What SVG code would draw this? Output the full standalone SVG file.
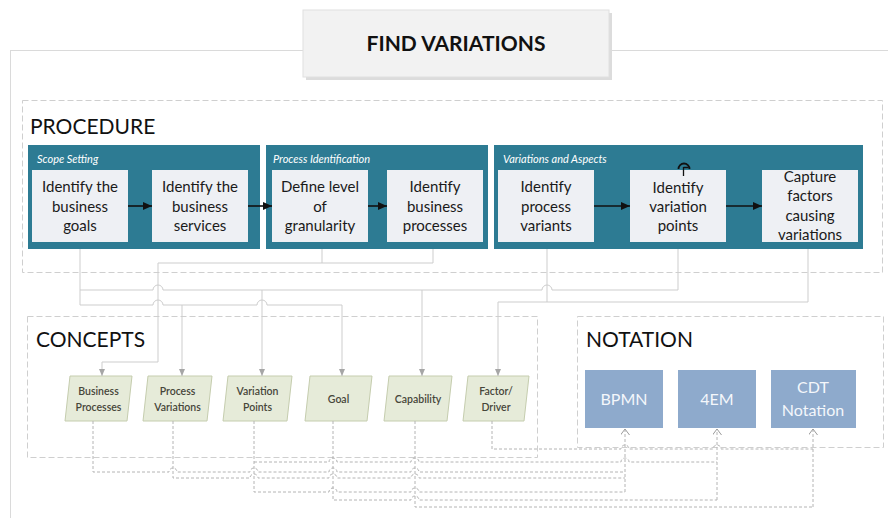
<svg xmlns="http://www.w3.org/2000/svg" width="888" height="518" viewBox="0 0 888 518">
<defs>
<style>
.t{font-family:Lato,"Liberation Sans",sans-serif}
.box{fill:#eef0f4}
.grp{fill:#2d7b93}
.bt{font-size:15px;fill:#1a1a1a;text-anchor:middle}
.gl{font-size:11px;fill:#ffffff;font-style:italic}
.sec{font-size:21px;fill:#111111}
.frame{fill:none;stroke:#cfcfcf;stroke-width:1;stroke-dasharray:6,3}
.con{fill:#e6ebd9;stroke:#c5cdae;stroke-width:1}
.ct{font-size:10.5px;fill:#46463a;font-weight:600;text-anchor:middle}
.nb{fill:#8eaacc}
.nt{font-size:16px;fill:#f4f7fb;text-anchor:middle}
.pa{stroke:#111;stroke-width:1.6;fill:none}
.up{stroke:#cdcdcd;stroke-width:1;fill:none}
.dn{stroke:#b4b4b4;stroke-width:1;fill:none;stroke-dasharray:3,2}
</style>
<marker id="ab" markerUnits="userSpaceOnUse" markerWidth="9" markerHeight="8" refX="9" refY="4" orient="auto"><path d="M0,0 L9,4 L0,8 z" fill="#111"/></marker>
<marker id="ag" markerUnits="userSpaceOnUse" markerWidth="7" markerHeight="6" refX="7" refY="3" orient="auto"><path d="M0,0 L7,3 L0,6 z" fill="#a6a6a6"/></marker>
<marker id="ao" markerUnits="userSpaceOnUse" markerWidth="7" markerHeight="9" refX="6" refY="4.5" orient="auto"><path d="M0,0 L6,4.5 L0,9" fill="none" stroke="#9a9a9a" stroke-width="1"/></marker>
</defs>
<rect width="888" height="518" fill="#ffffff"/>
<rect x="10.5" y="50.5" width="900" height="490" fill="none" stroke="#dadada"/>

<g id="title">
<rect x="306" y="13" width="306" height="67" fill="#dcdcdc"/>
<rect x="303" y="10" width="306" height="67" fill="#f2f2f2" stroke="#e0e0e0"/>
<text class="t" x="456" y="51" font-size="21" font-weight="bold" fill="#111" text-anchor="middle">FIND VARIATIONS</text>
</g>

<g id="procedure">
<rect class="frame" x="22.5" y="100.5" width="860" height="172"/>
<text class="t sec" x="30" y="134">PROCEDURE</text>
</g>

<g id="scope-setting">
<rect class="grp" x="28" y="145" width="232" height="104"/>
<text class="t gl" x="37" y="163">Scope Setting</text>
</g>
<g id="process-identification">
<rect class="grp" x="266" y="145" width="222" height="104"/>
<text class="t gl" x="273" y="163">Process Identification</text>
</g>
<g id="variations-and-aspects">
<rect class="grp" x="494" y="145" width="369" height="104"/>
<text class="t gl" x="503" y="163">Variations and Aspects</text>
</g>

<g id="s1"><rect class="box" x="32" y="170" width="96" height="72"/>
<text class="t bt" x="80" y="192">Identify the</text><text class="t bt" x="80" y="212">business</text><text class="t bt" x="80" y="231">goals</text></g>
<g id="s2"><rect class="box" x="152" y="170" width="96" height="72"/>
<text class="t bt" x="200" y="192">Identify the</text><text class="t bt" x="200" y="212">business</text><text class="t bt" x="200" y="231">services</text></g>
<g id="s3"><rect class="box" x="272" y="170" width="96" height="72"/>
<text class="t bt" x="320" y="192">Define level</text><text class="t bt" x="320" y="212">of</text><text class="t bt" x="320" y="231">granularity</text></g>
<g id="s4"><rect class="box" x="387" y="170" width="96" height="72"/>
<text class="t bt" x="435" y="192">Identify</text><text class="t bt" x="435" y="212">business</text><text class="t bt" x="435" y="231">processes</text></g>
<g id="s5"><rect class="box" x="498" y="170" width="96" height="72"/>
<text class="t bt" x="546" y="192">Identify</text><text class="t bt" x="546" y="212">process</text><text class="t bt" x="546" y="231">variants</text></g>
<g id="s6"><rect class="box" x="630" y="170" width="96" height="72"/>
<text class="t bt" x="678" y="193">Identify</text><text class="t bt" x="678" y="212">variation</text><text class="t bt" x="678" y="231">points</text></g>
<g id="s7"><rect class="box" x="762" y="170" width="96" height="72"/>
<text class="t bt" x="810" y="182">Capture</text><text class="t bt" x="810" y="201">factors</text><text class="t bt" x="810" y="221">causing</text><text class="t bt" x="810" y="240">variations</text></g>

<g id="cursor"><path d="M678.5,169 a5.5,5.5 0 1 1 11,0" fill="none" stroke="#111" stroke-width="1.8"/><path d="M683.5,167 V176 M683.5,167.5 h5" fill="none" stroke="#111" stroke-width="1.3"/></g>

<g id="concepts">
<rect class="frame" x="27.5" y="316.5" width="510" height="141"/>
<text class="t sec" x="36" y="347">CONCEPTS</text>
</g>
<g id="c-bp"><path class="con" d="M70,376 H132 L127,421 H65 Z"/><text class="t ct" x="98.5" y="395">Business</text><text class="t ct" x="98.5" y="411">Processes</text></g>
<g id="c-pv"><path class="con" d="M148,376 H212 L207,421 H143 Z"/><text class="t ct" x="177.5" y="395">Process</text><text class="t ct" x="177.5" y="411">Variations</text></g>
<g id="c-vp"><path class="con" d="M228,376 H292 L287,421 H223 Z"/><text class="t ct" x="257.5" y="395">Variation</text><text class="t ct" x="257.5" y="411">Points</text></g>
<g id="c-goal"><path class="con" d="M310,376 H372 L367,421 H305 Z"/><text class="t ct" x="338.5" y="403">Goal</text></g>
<g id="c-cap"><path class="con" d="M389,376 H452 L447,421 H384 Z"/><text class="t ct" x="418" y="403">Capability</text></g>
<g id="c-fd"><path class="con" d="M468,376 H529 L524,421 H463 Z"/><text class="t ct" x="496" y="395">Factor/</text><text class="t ct" x="496" y="411">Driver</text></g>

<g id="notation">
<rect class="frame" x="577.5" y="316.5" width="306" height="131"/>
<text class="t sec" x="586" y="347">NOTATION</text>
</g>
<g id="n-bpmn"><rect class="nb" x="585" y="370" width="78" height="58"/><text class="t nt" x="624" y="405">BPMN</text></g>
<g id="n-4em"><rect class="nb" x="678" y="370" width="78" height="58"/><text class="t nt" x="717" y="405">4EM</text></g>
<g id="n-cdt"><rect class="nb" x="771" y="370" width="85" height="58"/><text class="t nt" x="813" y="393">CDT</text><text class="t nt" x="813" y="416">Notation</text></g>

<g id="connectors">
<path class="pa" d="M128,206 H152" marker-end="url(#ab)"/>
<path class="pa" d="M248,206 H272" marker-end="url(#ab)"/>
<path class="pa" d="M368,206 H387" marker-end="url(#ab)"/>
<path class="pa" d="M594,206 H630" marker-end="url(#ab)"/>
<path class="pa" d="M726,206 H762" marker-end="url(#ab)"/>

<path class="up" d="M80,249 V305 H153 a5,5 0 0 1 10,0 H257 a5,5 0 0 1 10,0 H342 V376" marker-end="url(#ag)"/>
<path class="up" d="M182,305 V376" marker-end="url(#ag)"/>
<path class="up" d="M80,290 H153 a5,5 0 0 1 10,0 H542 a5,5 0 0 1 10,0 H678 V249"/>
<path class="up" d="M262,290 V376" marker-end="url(#ag)"/>
<path class="up" d="M422,290 V376" marker-end="url(#ag)"/>
<path class="up" d="M547,249 V302 H498 V376" marker-end="url(#ag)"/>
<path class="up" d="M808,249 V302 H547"/>
<path class="up" d="M322,249 V263 M433,249 V263"/>
<path class="up" d="M433,263 H158 V362 H102 V376" marker-end="url(#ag)"/>

<path class="dn" d="M93,421 V472 H169 a4,4 0 0 1 8,0 H250 a4,4 0 0 1 8,0 H329 a4,4 0 0 1 8,0 H411 a4,4 0 0 1 8,0 H625"/>
<path class="dn" d="M173,421 V478 H250 a4,4 0 0 1 8,0 H329 a4,4 0 0 1 8,0 H411 a4,4 0 0 1 8,0 H625"/>
<path class="dn" d="M254,421 V492 H329 a4,4 0 0 1 8,0 H411 a4,4 0 0 1 8,0 H625"/>
<path class="dn" d="M254,462 H329 a4,4 0 0 1 8,0 H411 a4,4 0 0 1 8,0 H621 a4,4 0 0 1 8,0 H717"/>
<path class="dn" d="M333,421 V500 H411 a4,4 0 0 1 8,0 H717"/>
<path class="dn" d="M415,421 V507 H813"/>
<path class="dn" d="M492,421 V449 H621 a4,4 0 0 1 8,0 H713 a4,4 0 0 1 8,0 H813"/>
<path class="dn" d="M625,492 V429" marker-end="url(#ao)"/>
<path class="dn" d="M717,500 V429" marker-end="url(#ao)"/>
<path class="dn" d="M813,507 V429" marker-end="url(#ao)"/>
</g>
</svg>
